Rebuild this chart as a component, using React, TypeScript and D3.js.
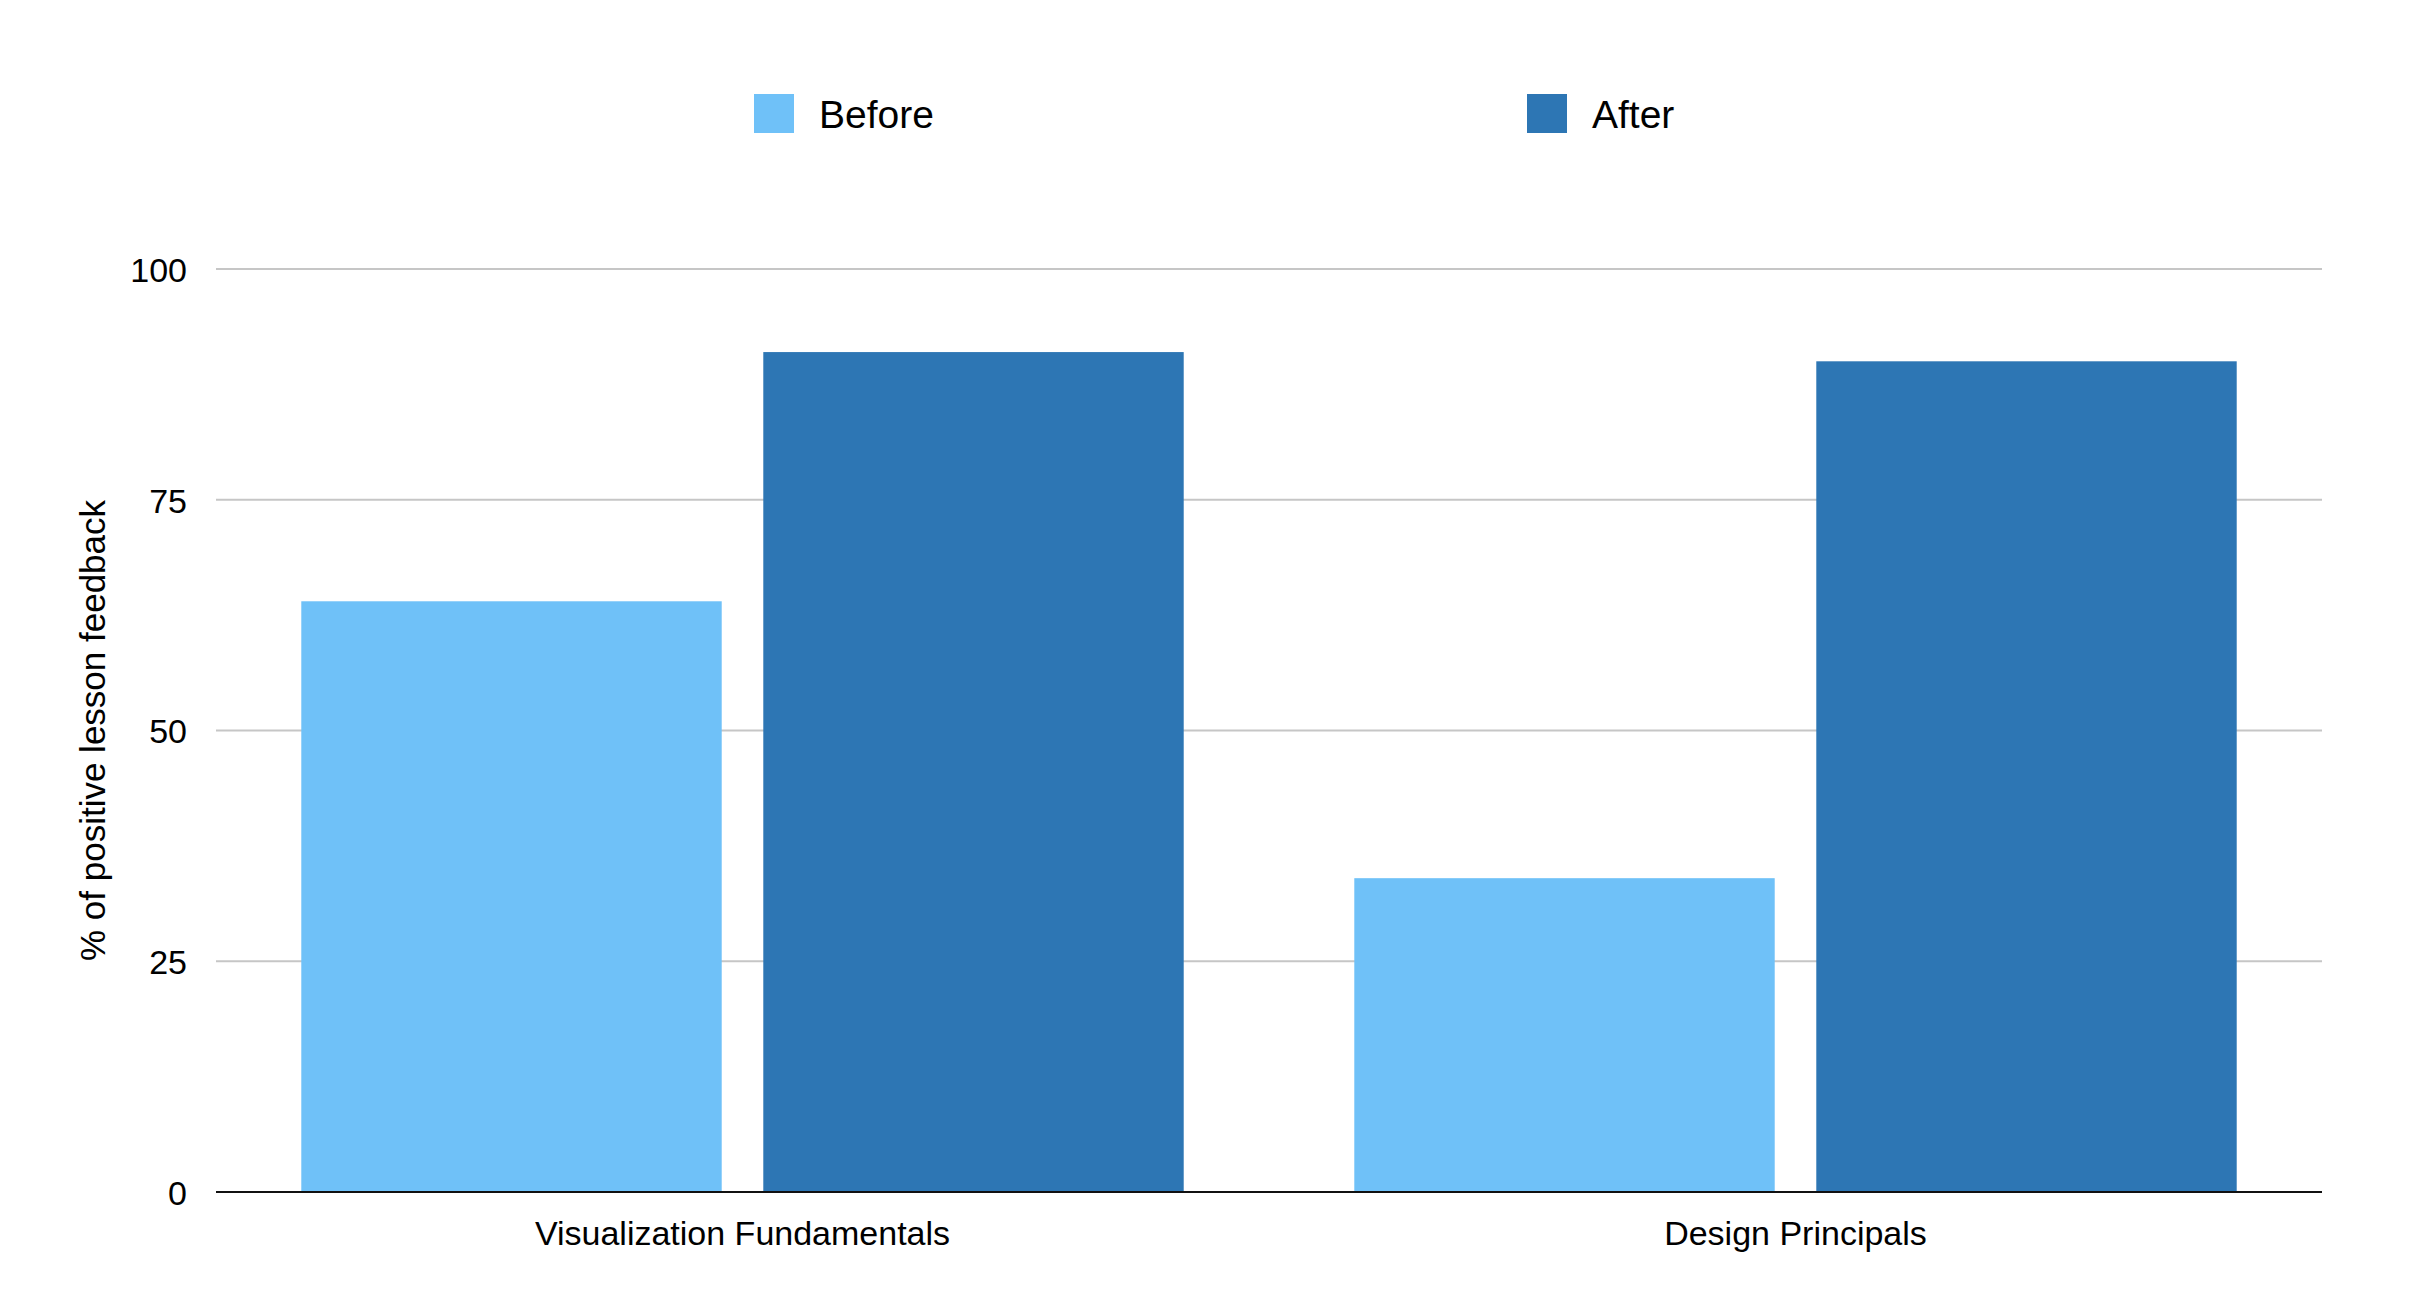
import * as d3 from "d3";

// chart data
const categories = ["Visualization Fundamentals", "Design Principals"];
const seriesNames = ["Before", "After"];
const beforeValues = [64, 34];
const afterValues = [91, 90];
const yTicks = [0, 25, 50, 75, 100];

const colors = ["#6FC1F8", "#2D76B4"];

const width = 2422;
const height = 1312;
const plot = { left: 216, right: 2322, top: 269, bottom: 1192 };
const font = "'Liberation Sans', Arial, Helvetica, sans-serif";

export default function App() {
  const x0 = d3
    .scaleBand<string>()
    .domain(categories)
    .range([plot.left, plot.right])
    .paddingInner(0.162)
    .paddingOuter(0.081);

  const x1 = d3
    .scaleBand<string>()
    .domain(seriesNames)
    .range([0, x0.bandwidth()])
    .paddingInner(0.09);

  const y = d3.scaleLinear().domain([0, 100]).range([plot.bottom, plot.top]);

  const rows = categories.map((c, i) => ({
    category: c,
    values: [beforeValues[i], afterValues[i]],
  }));

  // legend positions
  const legendX = [754, 1527];

  return (
    <svg
      width={width}
      height={height}
      style={{ position: "absolute", left: 0, top: 0, background: "#fff" }}
      fontFamily={font}
    >
      {/* legend */}
      {seriesNames.map((s, i) => (
        <g key={s} transform={`translate(${legendX[i]}, 94)`}>
          <rect width={40} height={39} fill={colors[i]} />
          <text x={65} y={34} fontSize={39} fill="#000">
            {s}
          </text>
        </g>
      ))}

      {/* grid lines */}
      {yTicks
        .filter((t) => t > 0)
        .map((t) => (
          <line
            key={t}
            x1={plot.left}
            x2={plot.right}
            y1={y(t)}
            y2={y(t)}
            stroke="#c6c6c6"
            strokeWidth={2}
          />
        ))}

      {/* tick labels */}
      {yTicks.map((t) => (
        <text
          key={t}
          x={187}
          y={y(t)}
          dy="0.38em"
          textAnchor="end"
          fontSize={34}
          fill="#000"
        >
          {t}
        </text>
      ))}

      {/* bars */}
      {rows.map((r) => (
        <g key={r.category} transform={`translate(${x0(r.category)}, 0)`}>
          {r.values.map((v, i) => (
            <rect
              key={seriesNames[i]}
              x={x1(seriesNames[i])}
              y={y(v)}
              width={x1.bandwidth()}
              height={y(0) - y(v)}
              fill={colors[i]}
            />
          ))}
        </g>
      ))}

      {/* baseline */}
      <line
        x1={plot.left}
        x2={plot.right}
        y1={y(0)}
        y2={y(0)}
        stroke="#111"
        strokeWidth={2}
      />

      {/* category labels */}
      {categories.map((c) => (
        <text
          key={c}
          x={(x0(c) ?? 0) + x0.bandwidth() / 2}
          y={1245}
          textAnchor="middle"
          fontSize={34}
          fill="#000"
        >
          {c}
        </text>
      ))}

      {/* y axis title */}
      <text
        transform={`translate(105, ${(plot.top + plot.bottom) / 2}) rotate(-90)`}
        textAnchor="middle"
        fontSize={35}
        fill="#000"
      >
        % of positive lesson feedback
      </text>
    </svg>
  );
}
